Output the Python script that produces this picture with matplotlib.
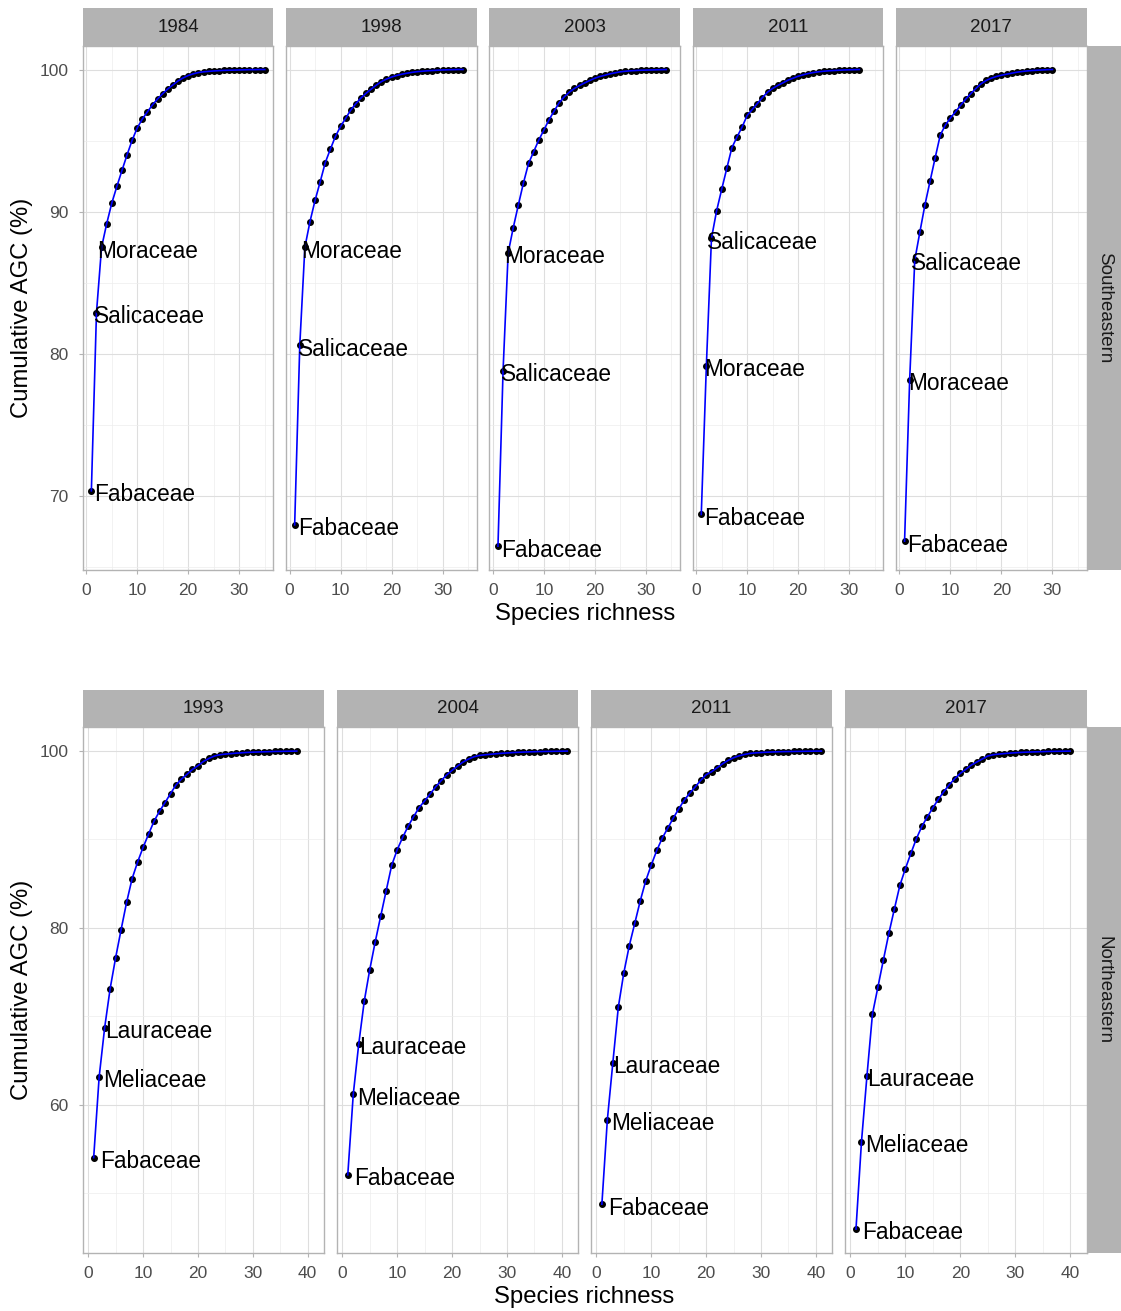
import numpy as np
import matplotlib.pyplot as plt

plt.rcParams['font.family'] = ['Liberation Sans', 'DejaVu Sans']

# cumulative AGC (%) against number of species, one curve per census
se_years = ['1984', '1998', '2003', '2011', '2017']
se_families = [['Fabaceae', 'Salicaceae', 'Moraceae'],
               ['Fabaceae', 'Salicaceae', 'Moraceae'],
               ['Fabaceae', 'Salicaceae', 'Moraceae'],
               ['Fabaceae', 'Moraceae', 'Salicaceae'],
               ['Fabaceae', 'Moraceae', 'Salicaceae']]

se_1984 = [70.37, 82.9, 87.5, 89.15, 90.6, 91.78, 92.9, 94.0, 95.03, 95.9,
           96.52, 97.03, 97.52, 97.94, 98.31, 98.64, 98.92, 99.2, 99.41, 99.58,
           99.7, 99.79, 99.84, 99.87, 99.9, 99.92, 99.94, 99.95, 99.96, 99.97,
           99.98, 99.99, 99.99, 100.0, 100.0]
se_1998 = [67.98, 80.6, 87.5, 89.3, 90.8, 92.1, 93.45, 94.4, 95.3, 96.0,
           96.57, 97.15, 97.6, 98.0, 98.33, 98.62, 98.9, 99.15, 99.33, 99.47,
           99.58, 99.67, 99.74, 99.8, 99.85, 99.88, 99.91, 99.93, 99.95, 99.97,
           99.98, 99.99, 100.0, 100.0]
se_2003 = [66.48, 78.83, 87.1, 88.88, 90.48, 92.03, 93.4, 94.22, 95.04, 95.74,
           96.46, 97.07, 97.66, 98.08, 98.41, 98.67, 98.88, 99.06, 99.23, 99.39,
           99.51, 99.6, 99.7, 99.77, 99.84, 99.88, 99.91, 99.93, 99.95, 99.96,
           99.97, 99.98, 99.99, 100.0]
se_2011 = [68.71, 79.18, 88.13, 90.05, 91.57, 93.04, 94.5, 95.25, 95.95, 96.77,
           97.19, 97.61, 98.03, 98.41, 98.67, 98.88, 99.06, 99.25, 99.39, 99.53,
           99.63, 99.72, 99.79, 99.84, 99.88, 99.91, 99.93, 99.95, 99.97, 99.98,
           99.99, 100.0]
se_2017 = [66.83, 78.19, 86.6, 88.57, 90.49, 92.15, 93.79, 95.39, 96.09, 96.6,
           97.03, 97.49, 97.92, 98.31, 98.67, 99.0, 99.23, 99.39, 99.51, 99.6,
           99.67, 99.74, 99.81, 99.86, 99.9, 99.93, 99.95, 99.97, 99.99, 100.0]

ne_years = ['1993', '2004', '2011', '2017']
ne_families = [['Fabaceae', 'Meliaceae', 'Lauraceae']] * 4

ne_1993 = [54.0, 63.15, 68.7, 73.12, 76.62, 79.81, 82.89, 85.56, 87.44, 89.1,
           90.6, 92.07, 93.2, 94.17, 95.19, 96.17, 96.84, 97.37, 97.93, 98.35,
           98.83, 99.17, 99.44, 99.59, 99.66, 99.72, 99.77, 99.81, 99.85, 99.88,
           99.9, 99.92, 99.94, 99.96, 99.97, 99.98, 99.99, 100.0]
ne_2004 = [52.05, 61.17, 66.87, 71.69, 75.26, 78.42, 81.32, 84.21, 87.07, 88.83,
           90.23, 91.5, 92.59, 93.61, 94.36, 95.15, 95.94, 96.65, 97.29, 97.82,
           98.31, 98.76, 99.1, 99.36, 99.51, 99.58, 99.64, 99.7, 99.75, 99.79,
           99.83, 99.86, 99.89, 99.91, 99.93, 99.95, 99.96, 99.97, 99.98, 99.99,
           100.0]
ne_2011 = [48.73, 58.3, 64.75, 71.05, 74.92, 78.0, 80.53, 83.08, 85.34, 87.11,
           88.76, 90.15, 91.28, 92.41, 93.46, 94.44, 95.23, 95.94, 96.69, 97.33,
           97.67, 98.12, 98.57, 98.95, 99.25, 99.47, 99.62, 99.74, 99.8, 99.84,
           99.87, 99.9, 99.92, 99.94, 99.95, 99.96, 99.97, 99.98, 99.99, 100.0,
           100.0]
ne_2017 = [45.91, 55.77, 63.25, 70.23, 73.31, 76.39, 79.4, 82.14, 84.81, 86.69,
           88.42, 90.08, 91.47, 92.56, 93.57, 94.55, 95.41, 96.2, 96.88, 97.48,
           97.93, 98.42, 98.76, 99.1, 99.44, 99.59, 99.66, 99.72, 99.77, 99.81,
           99.85, 99.88, 99.9, 99.92, 99.94, 99.96, 99.97, 99.98, 99.99, 100.0]

se_curves = [se_1984, se_1998, se_2003, se_2011, se_2017]
ne_curves = [ne_1993, ne_2004, ne_2011, ne_2017]

W, H = 1121, 1311
fig = plt.figure(figsize=(W / 100, H / 100), dpi=100)

STRIP_BG = '#B3B3B3'
BORDER = '#B3B3B3'


def px_axes(x0, y0, x1, y1):
    # pixel box (top-left origin) -> figure fraction axes
    return fig.add_axes([x0 / W, 1 - y1 / H, (x1 - x0) / W, (y1 - y0) / H])


def expand(lo, hi, mult=0.05):
    pad = (hi - lo) * mult
    return lo - pad, hi + pad


def strip(x0, y0, x1, y1, text, rotation=0):
    s = px_axes(x0, y0, x1, y1)
    s.set_facecolor(STRIP_BG)
    s.set_xticks([])
    s.set_yticks([])
    for sp in s.spines.values():
        sp.set_visible(False)
    s.text(0.5, 0.5, text, transform=s.transAxes, ha='center', va='center',
           rotation=rotation, fontsize=13.5, color='#1A1A1A')


def draw_block(years, curves, families, region, top, strip_h, bottom,
               left0, step, width, xticks, xminor, yticks, yminor, label_dx):
    ylo, yhi = expand(min(min(c) for c in curves), max(max(c) for c in curves))
    xlo, xhi = expand(1, max(len(c) for c in curves))
    for i, (yr, cum, fams) in enumerate(zip(years, curves, families)):
        left = left0 + i * step
        ax = px_axes(left, top + strip_h, left + width, bottom)
        rich = np.arange(1, len(cum) + 1)

        ax.set_xlim(xlo, xhi)
        ax.set_ylim(ylo, yhi)
        ax.set_xticks(xticks)
        ax.set_xticks(xminor, minor=True)
        ax.set_yticks(yticks)
        ax.set_yticks(yminor, minor=True)
        ax.grid(which='major', color='#DEDEDE', lw=0.8)
        ax.grid(which='minor', color='#EDEDED', lw=0.5)
        ax.set_axisbelow(True)
        for sp in ax.spines.values():
            sp.set_color(BORDER)
            sp.set_linewidth(1.0)
        ax.tick_params(which='major', length=3.2, width=0.8, color=BORDER,
                       labelsize=12.5, labelcolor='#4D4D4D')
        ax.tick_params(axis='x', pad=6.5)
        ax.tick_params(axis='y', pad=7)
        ax.tick_params(which='minor', length=0)
        if i > 0:
            ax.tick_params(axis='y', which='both', left=False, labelleft=False)

        ax.plot(rich, cum, 'o', color='black', ms=4.0, zorder=3)
        ax.plot(rich, cum, '-', color='#0000FF', lw=1.2, zorder=4)

        for j, fam in enumerate(fams):
            ax.annotate(fam, (rich[j], cum[j]), xytext=(label_dx[j] * 0.72, -1),
                        textcoords='offset points', ha='left',
                        va='center_baseline', fontsize=16.3, color='black',
                        zorder=5)

        strip(left, top, left + width, top + strip_h, yr)

    right = left0 + (len(years) - 1) * step + width
    strip(right + 1, top + strip_h, W, bottom, region, rotation=270)

    mid_x = (left0 + right) / 2
    fig.text(mid_x / W, 1 - (bottom + 44) / H, 'Species richness',
             ha='center', va='center', fontsize=17.2)
    mid_y = (top + strip_h + bottom) / 2
    fig.text(22 / W, 1 - mid_y / H, 'Cumulative AGC (%)', ha='center',
             va='center', rotation=90, fontsize=17.2)


# Southeastern plots
draw_block(se_years, se_curves, se_families, 'Southeastern',
           top=8.3, strip_h=37.4, bottom=570, left0=82.7, step=203.3,
           width=190.7, xticks=[0, 10, 20, 30], xminor=[5, 15, 25, 35],
           yticks=[70, 80, 90, 100], yminor=[65, 75, 85, 95],
           label_dx=[3, -2, -4])

# Northeastern plots
draw_block(ne_years, ne_curves, ne_families, 'Northeastern',
           top=690, strip_h=37.2, bottom=1253, left0=82.7, step=254.1,
           width=241.5, xticks=[0, 10, 20, 30, 40], xminor=[5, 15, 25, 35],
           yticks=[60, 80, 100], yminor=[50, 70, 90],
           label_dx=[6, 3.5, 0])

fig.savefig('out.png', dpi=100, facecolor='white')
